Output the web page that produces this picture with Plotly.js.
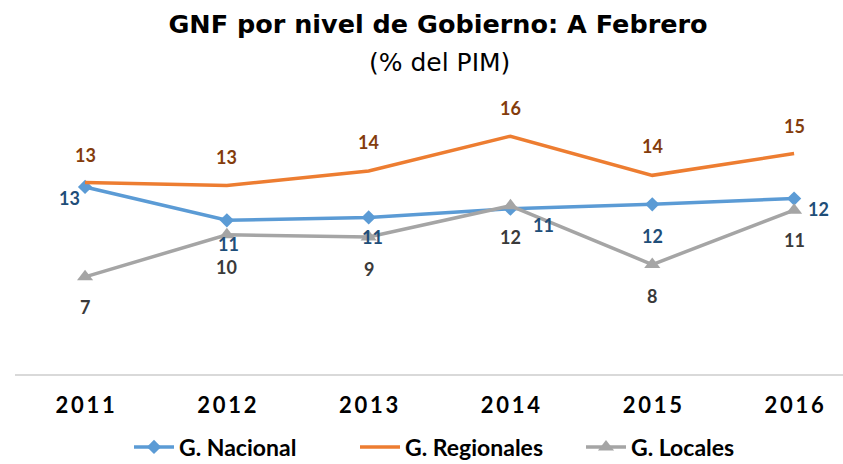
<!DOCTYPE html>
<html>
<head>
<meta charset="utf-8">
<script src="https://cdn.plot.ly/plotly-3.0.1.min.js"></script>
<style>html,body{margin:0;padding:0;background:#fff;}</style>
</head>
<body>
<div id="chart" style="width:843px;height:464px;"></div>
<script>
// ---- data ----
const years = ['2011', '2012', '2013', '2014', '2015', '2016'];
const nacional = [12.9, 10.6, 10.8, 11.4, 11.7, 12.1];
const regionales = [13.2, 13.0, 14.0, 16.4, 13.7, 15.2];
const locales = [6.7, 9.6, 9.45, 11.6, 7.55, 11.3];
const seriesNames = ['G. Nacional', 'G. Regionales', 'G. Locales'];

// ---- styling / label placement (pixels) ----
const FONT = 'Lato, "Open Sans", sans-serif';
const TFONT = '"DejaVu Sans", sans-serif';
const blueOff = [[-16, 11], [2, 24], [4, 20], [33, 16], [0, 32], [24, 10]];
const orangeOff = [[0, -28], [0, -29], [0, -29], [0, -28], [0, -29], [0, -28]];
const grayOff = [[0, 30], [0, 32], [0, 32], [0, 31], [0, 31], [0, 30]];

const traces = [
  {
    x: years, y: nacional, name: seriesNames[0], type: 'scatter', mode: 'lines+markers',
    line: {color: '#5B9BD5', width: 3.5},
    marker: {symbol: 'diamond', size: 11, color: '#5B9BD5'}
  },
  {
    x: years, y: regionales, name: seriesNames[1], type: 'scatter', mode: 'lines',
    line: {color: '#ED7D31', width: 3.5}
  },
  {
    x: years, y: locales, name: seriesNames[2], type: 'scatter', mode: 'lines+markers',
    line: {color: '#A5A5A5', width: 3.5},
    marker: {symbol: 'triangle-up', size: 14, color: '#A5A5A5'}
  }
];

function labels(vals, offs, color) {
  return vals.map((v, i) => ({
    x: i, y: v, xref: 'x', yref: 'y',
    text: '<b>' + Math.round(v) + '</b>', showarrow: false,
    xanchor: 'center', yanchor: 'middle', borderpad: 0,
    xshift: offs[i][0], yshift: -offs[i][1],
    font: {family: FONT, size: 18, color: color}
  }));
}

const annotations = [].concat(
  labels(regionales, orangeOff, '#843C0C'),
  labels(nacional, blueOff, '#1F4E79'),
  labels(locales, grayOff, '#3A3A3A'),
  [{
    text: '(% del PIM)', xref: 'paper', yref: 'paper', x: (440 - 15) / 828, y: (374 - 62) / 290,
    xanchor: 'center', yanchor: 'middle', showarrow: false,
    font: {family: TFONT, size: 25, color: '#000'}
  }]
);

const layout = {
  width: 843, height: 464,
  margin: {l: 15, r: 0, t: 84, b: 90},
  paper_bgcolor: '#fff', plot_bgcolor: '#fff',
  title: {
    text: '<b>GNF por nivel de Gobierno: A Febrero</b>',
    font: {family: TFONT, size: 25.5, color: '#000'},
    xref: 'container', x: 438 / 843, xanchor: 'center',
    yref: 'container', y: 1 - 24 / 464, yanchor: 'middle'
  },
  xaxis: {
    type: 'category', range: [-0.494, 5.345],
    tickvals: years, ticktext: years.map(y => y.split('').join('\u2009')),
    showline: true, linecolor: '#D9D9D9', linewidth: 1.5,
    showgrid: false, zeroline: false, ticks: '',
    ticklabelstandoff: 11,
    tickfont: {family: FONT, size: 22, color: '#000', weight: 'bold'},
    fixedrange: true
  },
  yaxis: {
    range: [0, 20], showgrid: false, zeroline: false, showline: false,
    showticklabels: false, ticks: '', fixedrange: true
  },
  showlegend: true,
  legend: {
    orientation: 'h', xref: 'container', x: 129 / 843, xanchor: 'left',
    yref: 'container', y: 1 - 447 / 464, yanchor: 'middle',
    font: {family: FONT, size: 23, color: '#000', weight: 'bold'},
    traceorder: 'normal', itemwidth: 40,
    entrywidthmode: 'pixels', entrywidth: 171
  },
  annotations: annotations
};

Plotly.newPlot('chart', traces, layout, {displayModeBar: false, staticPlot: true});
</script>
</body>
</html>
